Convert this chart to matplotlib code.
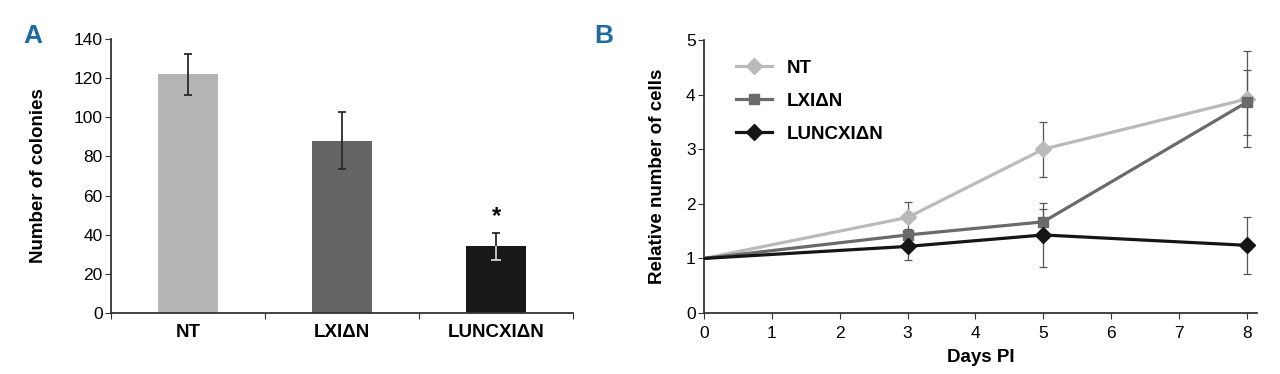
import matplotlib
matplotlib.use("Agg")
import matplotlib.pyplot as plt
import numpy as np

plt.rcParams["font.family"] = ["Liberation Sans", "DejaVu Sans"]

# panel A: colony counts
groups = ["NT", "LXIΔN", "LUNCXIΔN"]
colonies = [122, 88, 34]
colonies_err = [10.5, 14.5, 7]

# panel B: relative number of cells
days = [0, 3, 5, 8]
cells_nt = [1.0, 1.75, 3.0, 3.92]
cells_nt_err = [0, 0.28, 0.5, 0.88]
cells_lx = [1.0, 1.43, 1.67, 3.86]
cells_lx_err = [0, 0.1, 0.23, 0.6]
cells_lu = [1.0, 1.22, 1.43, 1.24]
cells_lu_err = [0, 0.24, 0.58, 0.52]

bar_colors = ["#b5b5b5", "#656565", "#181818"]
axis_col = "#333333"
tick_fs = 12.5
lab_fs = 13.5

fig = plt.figure(figsize=(12.8, 3.74), dpi=100)

# ---- A ----
ax = fig.add_axes([0.0867, 0.163, 0.361, 0.733])
x = np.arange(len(groups))
ax.bar(x, colonies, width=0.39, color=bar_colors, zorder=2)
ax.errorbar(x, colonies, yerr=colonies_err, fmt="none", ecolor="#2a2a2a",
            elinewidth=1.3, capsize=3, capthick=1.3, zorder=3)
# part of the last error bar inside the dark bar is drawn light
ax.vlines(x[-1], colonies[-1] - colonies_err[-1], colonies[-1], color="#d0d0d0",
          lw=1.3, zorder=4)
ax.hlines(colonies[-1] - colonies_err[-1], x[-1] - 0.035, x[-1] + 0.035,
          color="#d0d0d0", lw=1.3, zorder=4)
ax.text(x[-1], colonies[-1] + colonies_err[-1] + 2.5, "*", ha="center", va="bottom",
        fontsize=17, fontweight="bold")
ax.set_xlim(-0.5, 2.5)
ax.set_ylim(0, 140)
ax.set_yticks(range(0, 141, 20))
ax.set_xticks([-0.5, 0.5, 1.5, 2.5])
ax.set_xticklabels([])
ax.set_xticks(x, minor=True)
ax.set_xticklabels(groups, minor=True, fontsize=lab_fs, fontweight="bold")
ax.tick_params(axis="x", which="minor", length=0, pad=8)
ax.tick_params(axis="x", which="major", length=4, color=axis_col)
ax.tick_params(axis="y", labelsize=tick_fs, length=4, color=axis_col, pad=2)
ax.set_ylabel("Number of colonies", fontsize=lab_fs, fontweight="bold", labelpad=19)
for s in ["top", "right"]:
    ax.spines[s].set_visible(False)
for s in ["left", "bottom"]:
    ax.spines[s].set_color(axis_col)
    ax.spines[s].set_linewidth(1.3)

# ---- B ----
bx = fig.add_axes([0.55, 0.163, 0.432, 0.73])
series = [
    ("NT", cells_nt, cells_nt_err, "#bababa", "D", 8),
    ("LXIΔN", cells_lx, cells_lx_err, "#6a6a6a", "s", 7),
    ("LUNCXIΔN", cells_lu, cells_lu_err, "#151515", "D", 8),
]
for name, vals, errs, col, mk, ms in series:
    bx.errorbar(days, vals, yerr=errs, fmt="none", ecolor="#555555", elinewidth=0.9,
                capsize=3, capthick=0.9, zorder=2)
for name, vals, errs, col, mk, ms in series:
    bx.plot(days, vals, color=col, lw=2.3, marker=mk, markersize=ms, label=name,
            markevery=[1, 2, 3], zorder=3)
bx.set_xlim(0, 8.15)
bx.set_ylim(0, 5)
bx.set_xticks(range(0, 9))
bx.set_yticks(range(0, 6))
bx.tick_params(axis="y", labelsize=tick_fs, length=4, color=axis_col, pad=2)
bx.tick_params(axis="x", labelsize=tick_fs, length=4, color=axis_col, pad=5)
bx.set_xlabel("Days PI", fontsize=lab_fs, fontweight="bold", labelpad=6)
bx.set_ylabel("Relative number of cells", fontsize=lab_fs, fontweight="bold", labelpad=14)
for s in ["top", "right"]:
    bx.spines[s].set_visible(False)
for s in ["left", "bottom"]:
    bx.spines[s].set_color(axis_col)
    bx.spines[s].set_linewidth(1.3)
bx.legend(loc="upper left", bbox_to_anchor=(0.045, 0.955), frameon=False,
          prop={"size": lab_fs, "weight": "bold"}, handlelength=1.9,
          labelspacing=0.85, borderaxespad=0, handletextpad=0.8)

# panel letters
fig.text(0.018, 0.885, "A", color="#1f6aa0", fontsize=19, fontweight="bold")
fig.text(0.464, 0.885, "B", color="#1f6aa0", fontsize=19, fontweight="bold")

fig.savefig("out.png", dpi=100)
